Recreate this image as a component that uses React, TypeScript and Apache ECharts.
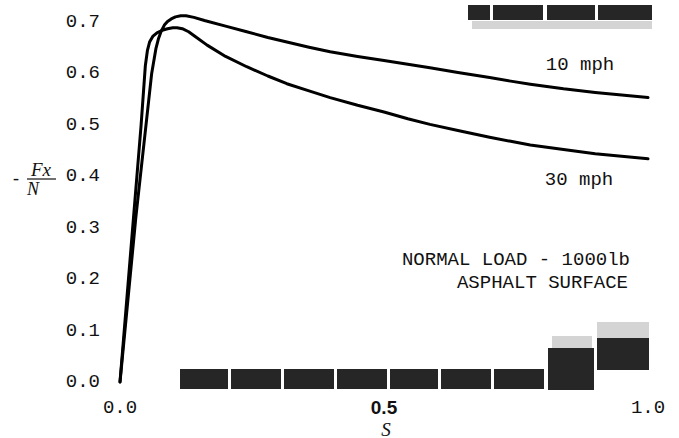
import React, { useEffect, useRef } from "react";
import * as echarts from "echarts";

const xTicks = [0, 0.5, 1.0];
const yTicks = [0, 0.1, 0.2, 0.3, 0.4, 0.5, 0.6, 0.7];

const slip10: [number, number][] = [
  [0, 0], [0.03, 0.32], [0.06, 0.6], [0.068, 0.648], [0.073, 0.668], [0.078, 0.682],
  [0.084, 0.694], [0.09, 0.701], [0.097, 0.706], [0.105, 0.71], [0.115, 0.712],
  [0.125, 0.712], [0.14, 0.709], [0.16, 0.703], [0.2, 0.692], [0.24, 0.681],
  [0.28, 0.67], [0.316, 0.661], [0.358, 0.651], [0.398, 0.642], [0.45, 0.633],
  [0.5, 0.625], [0.545, 0.618], [0.587, 0.611], [0.64, 0.602], [0.7, 0.592],
  [0.74, 0.585], [0.777, 0.579], [0.84, 0.57], [0.9, 0.563], [0.95, 0.558], [1.0, 0.553],
];

const slip30: [number, number][] = [
  [0, 0], [0.02, 0.25], [0.04, 0.5], [0.048, 0.615], [0.052, 0.645], [0.056, 0.661],
  [0.062, 0.672], [0.07, 0.679], [0.08, 0.684], [0.09, 0.687], [0.1, 0.689],
  [0.108, 0.689], [0.118, 0.687], [0.13, 0.681], [0.145, 0.67], [0.165, 0.655],
  [0.2, 0.633], [0.24, 0.613], [0.28, 0.595], [0.316, 0.58], [0.358, 0.566],
  [0.398, 0.553], [0.45, 0.538], [0.5, 0.525], [0.545, 0.512], [0.587, 0.501],
  [0.64, 0.489], [0.7, 0.476], [0.74, 0.468], [0.777, 0.461], [0.84, 0.452],
  [0.9, 0.444], [0.95, 0.439], [1.0, 0.434],
];

const seriesNames = ["10 mph", "30 mph"];
const noteLines = ["NORMAL LOAD - 1000lb", "ASPHALT SURFACE"];

const MONO = "'Liberation Mono', 'DejaVu Sans Mono', monospace";
const SERIF = "'Liberation Serif', 'DejaVu Serif', serif";

export default function App() {
  const ref = useRef<HTMLDivElement>(null);
  useEffect(() => {
    if (!ref.current) return;
    const chart = echarts.init(ref.current, undefined, { renderer: "svg" });
    const textStyle = { fill: "#111", font: `19px ${MONO}` };
    const blocks = [
      // top-right scan artifacts
      [468, 5, 22, 15], [493, 5, 50, 15], [547, 5, 48, 15], [598, 5, 54, 15],
      // bottom scan artifacts
      [180, 369, 48, 20], [231, 369, 50, 20], [284, 369, 50, 20], [337, 369, 50, 20],
      [390, 369, 48, 20], [441, 369, 50, 20], [494, 369, 50, 20], [548, 348, 46, 42],
      [597, 338, 52, 32],
    ];
    const hazes = [
      [472, 21, 180, 8], [597, 322, 52, 16], [552, 336, 40, 12],
    ];
    chart.setOption({
      animation: false,
      backgroundColor: "#fff",
      grid: { left: 120, right: 31, top: 22, bottom: 56 },
      xAxis: {
        type: "value",
        min: 0,
        max: 1,
        interval: 0.5,
        axisLine: { show: false },
        axisTick: { show: false },
        splitLine: { show: false },
        axisLabel: {
          margin: 16,
          fontFamily: MONO,
          fontSize: 19,
          color: "#111",
          formatter: (v: number) => (Math.abs(v - 0.5) < 1e-9 ? "{b|0.5}" : v.toFixed(1)),
          rich: { b: { fontFamily: "'Liberation Sans', Arial, sans-serif", fontWeight: "bold", fontSize: 19, color: "#111" } },
        },
      },
      yAxis: {
        type: "value",
        min: 0,
        max: 0.7,
        interval: 0.1,
        axisLine: { show: false },
        axisTick: { show: false },
        splitLine: { show: false },
        axisLabel: {
          margin: 20,
          fontFamily: MONO,
          fontSize: 19,
          color: "#111",
          formatter: (v: number) => v.toFixed(1),
        },
      },
      series: [
        {
          name: seriesNames[0], type: "line", data: slip10, showSymbol: false, clip: false,
          smooth: false, lineStyle: { color: "#000", width: 3, join: "round", cap: "round" },
        },
        {
          name: seriesNames[1], type: "line", data: slip30, showSymbol: false, clip: false,
          smooth: false, lineStyle: { color: "#000", width: 3, join: "round", cap: "round" },
        },
      ],
      graphic: [
        ...hazes.map(([x, y, w, h]) => ({
          type: "rect", shape: { x, y, width: w, height: h }, style: { fill: "#d4d4d4" }, silent: true,
        })),
        ...blocks.map(([x, y, w, h]) => ({
          type: "rect", shape: { x, y, width: w, height: h }, style: { fill: "#262626" }, silent: true,
        })),
        { type: "text", x: 580, y: 65, style: { ...textStyle, text: seriesNames[0], textAlign: "center", textVerticalAlign: "middle" } },
        { type: "text", x: 579, y: 180, style: { ...textStyle, text: seriesNames[1], textAlign: "center", textVerticalAlign: "middle" } },
        { type: "text", x: 630, y: 260, style: { ...textStyle, text: noteLines[0], textAlign: "right", textVerticalAlign: "middle" } },
        { type: "text", x: 628, y: 283, style: { ...textStyle, text: noteLines[1], textAlign: "right", textVerticalAlign: "middle" } },
        // y-axis name: - Fx / N
        { type: "text", x: 16, y: 178, style: { text: "-", fill: "#111", font: `18px ${SERIF}`, textAlign: "center", textVerticalAlign: "middle" } },
        { type: "text", x: 41, y: 169, style: { text: "Fx", fill: "#111", font: `italic 19px ${SERIF}`, textAlign: "center", textVerticalAlign: "middle" } },
        { type: "line", shape: { x1: 27, y1: 179, x2: 56, y2: 179 }, style: { stroke: "#111", lineWidth: 1.2 } },
        { type: "text", x: 33, y: 189, style: { text: "N", fill: "#111", font: `italic 18px ${SERIF}`, textAlign: "center", textVerticalAlign: "middle" } },
        // x-axis name
        { type: "text", x: 386, y: 429, style: { text: "S", fill: "#111", font: `italic 19px ${SERIF}`, textAlign: "center", textVerticalAlign: "middle" } },
      ],
    });
    return () => chart.dispose();
  }, []);
  return <div ref={ref} style={{ width: 679, height: 438, position: "absolute", left: 0, top: 0 }} />;
}
